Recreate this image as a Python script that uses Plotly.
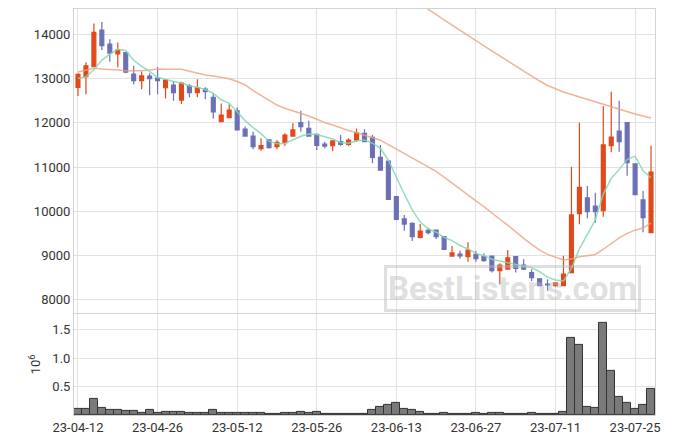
import plotly.graph_objects as go

dates = [
    "23-04-12", "23-04-13", "23-04-14", "23-04-17", "23-04-18", "23-04-19", "23-04-20", "23-04-21",
    "23-04-24", "23-04-25", "23-04-26", "23-04-27", "23-04-28",
    "23-05-02", "23-05-03", "23-05-04", "23-05-08", "23-05-09", "23-05-10", "23-05-11", "23-05-12",
    "23-05-15", "23-05-16", "23-05-17", "23-05-18", "23-05-19", "23-05-22", "23-05-23", "23-05-24",
    "23-05-25", "23-05-26", "23-05-30", "23-05-31",
    "23-06-01", "23-06-02", "23-06-05", "23-06-07", "23-06-08", "23-06-09", "23-06-12", "23-06-13",
    "23-06-14", "23-06-15", "23-06-16", "23-06-19", "23-06-20", "23-06-21", "23-06-22", "23-06-23",
    "23-06-26", "23-06-27", "23-06-28", "23-06-29", "23-06-30",
    "23-07-03", "23-07-04", "23-07-05", "23-07-06", "23-07-07", "23-07-10", "23-07-11", "23-07-12",
    "23-07-13", "23-07-14", "23-07-17", "23-07-18", "23-07-19", "23-07-20", "23-07-21", "23-07-24",
    "23-07-25", "23-07-26", "23-07-27",
]

open_ = [12800, 13045, 13270, 14100, 13785, 13560, 13590, 13105, 12955, 13060,
         13015, 12795, 12855, 12515, 12835, 12685, 12765, 12580, 12025, 12115,
         12270, 11860, 11700, 11415, 11615, 11460, 11550, 11700, 12005, 11875,
         11740, 11520, 11485, 11575, 11515, 11610, 11765, 11670, 11220, 11135,
         10330, 9825, 9725, 9410, 9565, 9575, 9425, 8985, 9030, 8970,
         9025, 8970, 8985, 8655, 8690, 8970, 8780, 8610, 8470, 8350,
         8315, 8315, 8610, 9945, 10305, 10115, 10010, 11485, 11815, 12005,
         11070, 10255, 9515]
high = [13120, 13370, 14250, 14280, 13890, 13820, 13600, 13295, 13160, 13120,
        13260, 12995, 12945, 12930, 12880, 12985, 12805, 12670, 12440, 12420,
        12350, 11915, 11800, 11650, 11620, 11605, 11765, 11990, 12275, 12050,
        11745, 11575, 11600, 11725, 11650, 11875, 11855, 11725, 11500, 11140,
        10335, 9915, 9750, 9710, 9625, 9580, 9430, 9210, 9105, 9295,
        9100, 9045, 8990, 8820, 9120, 8975, 8915, 8685, 8475, 8460,
        8385, 8990, 11005, 12005, 10570, 10420, 12380, 12705, 12500, 12010,
        11075, 10455, 11485]
low = [12610, 12650, 13260, 13650, 13385, 13260, 13120, 12875, 12760, 12625,
       12650, 12550, 12500, 12425, 12580, 12580, 12535, 12100, 12020, 12110,
       11830, 11685, 11400, 11370, 11420, 11400, 11475, 11685, 11800, 11685,
       11385, 11425, 11360, 11480, 11480, 11575, 11570, 11085, 10925, 10265,
       9810, 9560, 9325, 9385, 9475, 9370, 9130, 8970, 8925, 8855,
       8855, 8855, 8615, 8350, 8685, 8615, 8670, 8420, 8305, 8200,
       8290, 8300, 8600, 9705, 9840, 9740, 9875, 11335, 11345, 10805,
       10370, 9525, 9510]
close = [13100, 13290, 14050, 13750, 13575, 13655, 13150, 12955, 13065, 13000,
         12955, 12970, 12685, 12900, 12685, 12795, 12705, 12250, 12175, 12290,
         11840, 11700, 11460, 11485, 11440, 11560, 11725, 11840, 11915, 11700,
         11490, 11475, 11595, 11515, 11610, 11775, 11575, 11220, 10930, 10270,
         9815, 9710, 9425, 9550, 9515, 9425, 9135, 9055, 8990, 9120,
         8925, 8880, 8655, 8780, 8945, 8705, 8690, 8495, 8315, 8330,
         8380, 8575, 9915, 10540, 9990, 9990, 11500, 11680, 11575, 11100,
         10375, 9855, 10885]

ma_short = [13010, 13040, 13200, 13420, 13553, 13664, 13636, 13417, 13280, 13165,
            13025, 12989, 12935, 12902, 12839, 12807, 12754, 12667, 12522, 12443,
            12252, 12051, 11893, 11755, 11585, 11529, 11534, 11610, 11696, 11748,
            11734, 11684, 11635, 11555, 11537, 11594, 11614, 11539, 11422, 11154,
            10762, 10389, 10030, 9754, 9603, 9525, 9410, 9336, 9224, 9145,
            9045, 8994, 8914, 8872, 8837, 8793, 8755, 8723, 8630, 8507,
            8442, 8419, 8703, 9148, 9480, 9802, 10387, 10740, 10947, 11169,
            11246, 10917, 10758]
ma_mid = [13150, 13196, 13235, 13219, 13212, 13196, 13180, 13174, 13180, 13196,
          13219, 13212, 13204, 13212, 13166, 13121, 13083, 13060, 13030, 13000,
          12937, 12858, 12728, 12615, 12508, 12403, 12332, 12276, 12219, 12154,
          12081, 12006, 11951, 11882, 11828, 11777, 11721, 11669, 11607, 11506,
          11405, 11305, 11204, 11107, 11011, 10904, 10774, 10635, 10489, 10360,
          10232, 10102, 9955, 9818, 9685, 9531, 9387, 9251, 9120, 9023,
          8951, 8895, 8919, 8969, 8992, 9021, 9139, 9270, 9399, 9498,
          9571, 9620, 9731]
ma_long = [None] * 43 + [14690, 14577, 14453, 14328, 14215, 14102, 13989,
                         13864, 13740, 13626, 13513, 13400, 13287, 13174, 13049, 12947, 12845,
                         12766, 12698, 12642, 12585, 12528, 12472, 12415, 12359, 12302, 12245,
                         12200, 12155, 12110]

volume_m = [0.103, 0.10, 0.29, 0.133, 0.086, 0.086, 0.068, 0.068, 0.045, 0.086,
            0.045, 0.063, 0.063, 0.063, 0.045, 0.045, 0.045, 0.086, 0.045, 0.045,
            0.045, 0.045, 0.045, 0.045, 0.025, 0.025, 0.045, 0.045, 0.063, 0.045,
            0.063, 0.028, 0.028, 0.028, 0.028, 0.028, 0.028, 0.086, 0.15, 0.173,
            0.22, 0.103, 0.086, 0.063, 0.028, 0.028, 0.045, 0.028, 0.028, 0.028,
            0.045, 0.028, 0.045, 0.045, 0.028, 0.028, 0.028, 0.045, 0.028, 0.028,
            0.028, 0.063, 1.357, 1.24, 0.15, 0.12, 1.62, 0.785, 0.31, 0.22,
            0.103, 0.185, 0.453]

tick_labels = ["23-04-12", "23-04-26", "23-05-12", "23-05-26", "23-06-13",
               "23-06-27", "23-07-11", "23-07-25"]
price_ticks = [8000, 9000, 10000, 11000, 12000, 13000, 14000]
price_tick_text = ["8000", "9000", "10000", "11000", "12000", "13000", "14000"]
vol_ticks = [0.5, 1.0, 1.5]
vol_tick_text = ["0.5", "1.0", "1.5"]

UP = "#E3481A"
DOWN = "#6C70B4"
GRID = "#e2e2e2"
LINE = "#d4d4d4"

fig = go.Figure()
fig.add_trace(go.Candlestick(
    x=dates, open=open_, high=high, low=low, close=close,
    increasing=dict(line=dict(color=UP, width=1.2), fillcolor=UP),
    decreasing=dict(line=dict(color=DOWN, width=1.2), fillcolor=DOWN),
    whiskerwidth=0, showlegend=False, hoverinfo="skip",
    xaxis="x", yaxis="y"))
fig.add_trace(go.Scatter(x=dates, y=ma_long, mode="lines",
                         line=dict(color="rgba(236,160,120,0.8)", width=1.5),
                         showlegend=False, xaxis="x", yaxis="y", connectgaps=False))
fig.add_trace(go.Scatter(x=dates, y=ma_mid, mode="lines",
                         line=dict(color="rgba(236,160,130,0.8)", width=1.5),
                         showlegend=False, xaxis="x", yaxis="y"))
fig.add_trace(go.Scatter(x=dates, y=ma_short, mode="lines",
                         line=dict(color="rgba(130,215,180,0.85)", width=1.5),
                         showlegend=False, xaxis="x", yaxis="y"))
fig.add_trace(go.Bar(x=dates, y=volume_m, xaxis="x2", yaxis="y2", showlegend=False,
                     marker=dict(color="#7a7a7a", line=dict(color="#333333", width=1))))

axis_font = dict(family="Roboto", size=13, color="#333333")

fig.update_layout(
    width=675, height=444,
    margin=dict(l=74, r=20, t=9, b=29, autoexpand=False),
    paper_bgcolor="white", plot_bgcolor="white",
    font=axis_font,
    bargap=0,
    showlegend=False,
    xaxis=dict(domain=[0, 1], anchor="y", type="category", matches="x2",
               range=[-0.5, len(dates) - 0.5], automargin=False,
               tickmode="array", tickvals=tick_labels, showticklabels=False,
               showgrid=True, gridcolor=GRID, rangeslider=dict(visible=False),
               showline=True, mirror=True, linecolor=LINE, ticks=""),
    yaxis=dict(domain=[0.251, 1], anchor="x", range=[7694, 14577], automargin=False,
               tickmode="array", tickvals=price_ticks, ticktext=price_tick_text,
               showgrid=True, gridcolor=GRID, zeroline=False,
               showline=True, mirror=True, linecolor=LINE, ticks="", tickfont=axis_font),
    xaxis2=dict(domain=[0, 1], anchor="y2", type="category", automargin=False,
                range=[-0.5, len(dates) - 0.5],
                tickmode="array", tickvals=tick_labels,
                showgrid=True, gridcolor=GRID,
                showline=True, mirror=True, linecolor=LINE, ticks="", tickfont=axis_font),
    yaxis2=dict(domain=[0, 0.249], anchor="x2", range=[0, 1.78], automargin=False,
                tickmode="array", tickvals=vol_ticks, ticktext=vol_tick_text,
                showgrid=True, gridcolor=GRID, zeroline=False,
                showline=True, mirror=True, linecolor=LINE, ticks="", tickfont=axis_font,
                title=dict(text="10<sup>6</sup>", font=dict(family="Roboto", size=13, color="#333333"),
                           standoff=8)),
    annotations=[dict(
        text="<b>BestListens.com</b>", xref="paper", yref="paper",
        x=0.754, y=0.3116, xanchor="center", yanchor="middle", showarrow=False,
        font=dict(family="Roboto", size=33, color="rgba(185,185,185,0.45)"),
        bordercolor="rgba(185,185,185,0.45)", borderwidth=3, borderpad=1,
    )],
)

fig.write_html("out.html", config={"displayModeBar": False},
               post_script="document.body.style.margin='0';document.body.style.overflow='hidden';")
